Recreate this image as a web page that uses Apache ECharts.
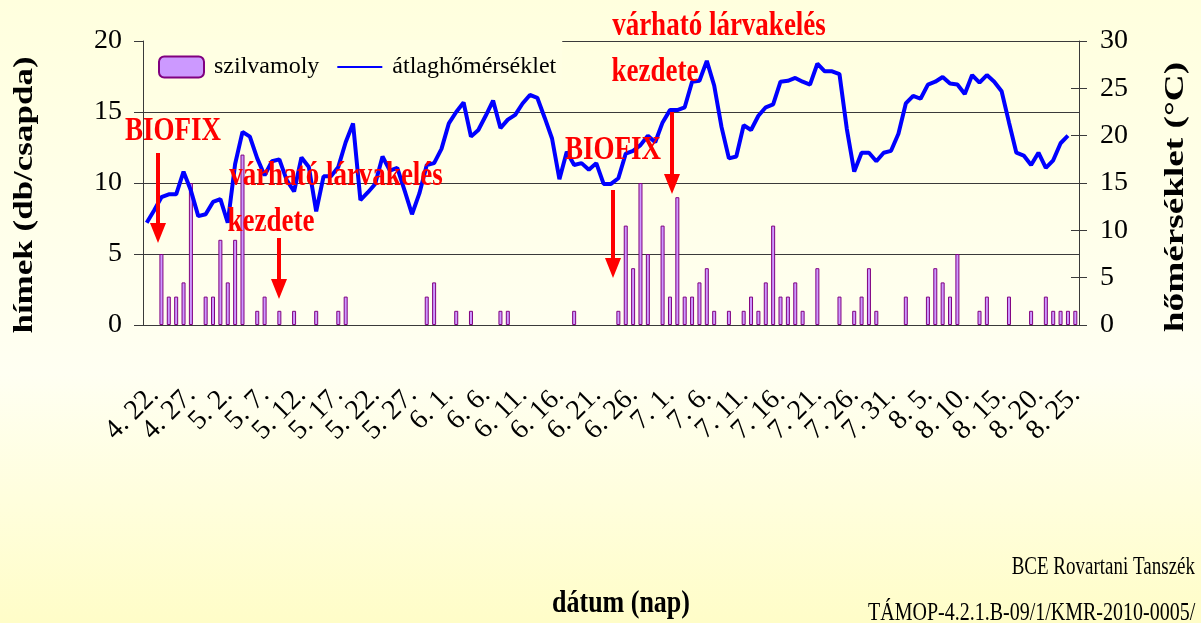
<!DOCTYPE html>
<html>
<head>
<meta charset="utf-8">
<script src="https://cdn.jsdelivr.net/npm/echarts@6.0.0/dist/echarts.min.js"></script>
<style>
  html, body { margin: 0; padding: 0; }
  #chart { width: 1201px; height: 623px; }
</style>
</head>
<body>
<div id="chart"></div>
<script>
  // napok: 4.22 - 8.26
  var monthDays = [[4, 22, 30], [5, 1, 31], [6, 1, 30], [7, 1, 31], [8, 1, 26]]
  var dates = []
  monthDays.forEach(function (m) {
    for (var d = m[1]; d <= m[2]; d++) dates.push(m[0] + '. ' + d + '.')
  })

  // szilvamoly hímek (db/csapda)
  var moths = [
    0, 0, 5, 2, 2, 3, 10, 0, 2, 2,
    6, 3, 6, 12, 0, 1, 2, 0, 1, 0,
    1, 0, 0, 1, 0, 0, 1, 2, 0, 0,
    0, 0, 0, 0, 0, 0, 0, 0, 2, 3,
    0, 0, 1, 0, 1, 0, 0, 0, 1, 1,
    0, 0, 0, 0, 0, 0, 0, 0, 1, 0,
    0, 0, 0, 0, 1, 7, 4, 10, 5, 0,
    7, 2, 9, 2, 2, 3, 4, 1, 0, 1,
    0, 1, 2, 1, 3, 7, 2, 2, 3, 1,
    0, 4, 0, 0, 2, 0, 1, 2, 4, 1,
    0, 0, 0, 2, 0, 0, 2, 4, 3, 2,
    5, 0, 0, 1, 2, 0, 0, 2, 0, 0,
    1, 0, 2, 1, 1, 1, 1
  ]

  // átlaghőmérséklet (°C)
  var temps = [
    10.8, 12.1, 13.5, 13.8, 13.8, 16.2, 14.2, 11.5, 11.7, 13.0,
    13.3, 10.8, 17.0, 20.4, 19.9, 17.6, 15.8, 17.3, 17.5, 15.3,
    14.1, 17.7, 16.7, 12.0, 15.7, 15.7, 16.7, 19.3, 21.3, 13.2,
    14.0, 14.9, 17.8, 16.3, 16.6, 14.2, 11.7, 13.9, 16.9, 17.1,
    18.6, 21.3, 22.5, 23.5, 19.9, 20.6, 22.1, 23.7, 20.8, 21.7,
    22.2, 23.4, 24.3, 24.0, 21.9, 19.7, 15.4, 18.3, 16.9, 17.1,
    16.4, 17.1, 14.9, 14.9, 15.5, 18.1, 18.4, 19.0, 20.0, 19.3,
    21.4, 22.7, 22.7, 23.0, 25.7, 25.8, 27.9, 25.3, 20.9, 17.6,
    17.8, 21.1, 20.6, 22.1, 23.0, 23.3, 25.7, 25.8, 26.1, 25.7,
    25.4, 27.6, 26.8, 26.8, 26.5, 20.7, 16.2, 18.2, 18.2, 17.3,
    18.2, 18.4, 20.2, 23.4, 24.2, 23.9, 25.4, 25.7, 26.2, 25.5,
    25.4, 24.4, 26.4, 25.6, 26.4, 25.7, 24.7, 21.4, 18.2, 17.9,
    16.9, 18.2, 16.6, 17.4, 19.2, 20.0, null
  ]

  var serif = '"Liberation Serif", "Times New Roman", serif'
  var axisColor = '#3a3a3a'

  function label (text, x, y, opts) {
    opts = opts || {}
    return {
      type: 'text', x: x, y: y, z: 100,
      rotation: opts.rotation || 0,
      scaleX: opts.scaleX || 1,
      scaleY: opts.scaleY || 1,
      style: {
        text: text,
        font: (opts.bold === false ? '' : 'bold ') + (opts.size || 27) + 'px ' + serif,
        fill: opts.color || '#ff0000',
        align: opts.align || 'center', textAlign: opts.align || 'center',
        verticalAlign: 'middle', textVerticalAlign: 'middle'
      }
    }
  }

  function arrow (x, y1, y2) {
    return [
      { type: 'line', z: 100, shape: { x1: x, y1: y1, x2: x, y2: y2 - 18 },
        style: { stroke: '#ff0000', lineWidth: 4 } },
      { type: 'polygon', z: 100, shape: { points: [[x - 8, y2 - 20], [x + 8, y2 - 20], [x, y2]] },
        style: { fill: '#ff0000' } }
    ]
  }

  // dátum címkék: két tengelyre elosztva, hogy ne takarják egymást
  function dateLabels (offset) {
    return {
      interval: function (i) { return i % 10 === offset },
      rotate: 45, margin: 58,
      align: 'right', verticalAlign: 'top', lineHeight: 22,
      fontFamily: serif, fontSize: 28, color: '#000'
    }
  }

  var chart = echarts.init(document.getElementById('chart'))
  var option = {
    backgroundColor: {
      type: 'linear', x: 0, y: 0, x2: 0, y2: 1,
      colorStops: [
        { offset: 0, color: '#FFFFDE' },
        { offset: 0.6, color: '#FFFFF2' },
        { offset: 1, color: '#FFFDC8' }
      ]
    },
    animation: false,
    grid: { left: 143, right: 122, top: 41, bottom: 298 },
    legend: {
      left: 144, top: 40,
      padding: [15, 6, 14, 14],
      itemWidth: 45, itemHeight: 21, itemGap: 17,
      backgroundColor: '#FFFFE3',
      textStyle: { fontFamily: serif, fontSize: 24, color: '#000', padding: [0, 0, 0, 5] },
      data: [
        { name: 'szilvamoly' },
        { name: 'átlaghőmérséklet', itemStyle: { opacity: 0 } }
      ]
    },
    xAxis: [{
      type: 'category', data: dates, position: 'bottom',
      axisLine: { lineStyle: { color: axisColor, width: 1 } },
      axisTick: { interval: 4, length: 12, lineStyle: { color: axisColor } },
      axisLabel: dateLabels(0),
      splitLine: { show: false }
    }, {
      type: 'category', data: dates, position: 'bottom',
      axisLine: { show: false },
      axisTick: { interval: 4, inside: true, length: 10, lineStyle: { color: axisColor } },
      axisLabel: dateLabels(5),
      splitLine: { show: false }
    }],
    yAxis: [{
      type: 'value', min: 0, max: 20, interval: 5, position: 'left',
      axisLine: { show: true, lineStyle: { color: axisColor } },
      axisTick: { show: true, length: 9, lineStyle: { color: axisColor } },
      axisLabel: { margin: 21, fontFamily: serif, fontSize: 28, color: '#000' },
      splitLine: { show: true, lineStyle: { color: axisColor, width: 1 } }
    }, {
      type: 'value', min: 0, max: 30, interval: 5, position: 'right',
      axisLine: { show: true, lineStyle: { color: axisColor } },
      axisTick: { show: true, length: 8, lineStyle: { color: axisColor } },
      axisLabel: { margin: 21, fontFamily: serif, fontSize: 28, color: '#000' },
      splitLine: { show: false }
    }, {
      type: 'value', min: 0, max: 30, interval: 5, position: 'right',
      axisLine: { show: false },
      axisTick: { show: true, inside: true, length: 8, lineStyle: { color: axisColor } },
      axisLabel: { show: false },
      splitLine: { show: false }
    }],
    series: [{
      name: 'szilvamoly', type: 'bar',
      data: moths.map(function (v) { return v === 0 ? '-' : v }),
      xAxisIndex: 0, yAxisIndex: 0,
      barWidth: 4,
      itemStyle: { color: '#CC99FF', borderColor: '#800080', borderWidth: 1 },
      z: 2
    }, {
      name: 'átlaghőmérséklet', type: 'line', data: temps,
      xAxisIndex: 0, yAxisIndex: 1,
      symbol: 'none',
      lineStyle: { color: '#0000FF', width: 4 },
      itemStyle: { color: '#0000FF' },
      z: 5
    }],
    graphic: [
      label('BIOFIX', 173, 131, { scaleY: 1.25 }),
      label('várható lárvakelés', 336, 176, { scaleY: 1.25 }),
      label('kezdete', 271, 222, { scaleY: 1.25 }),
      label('BIOFIX', 613, 150, { scaleY: 1.25 }),
      label('várható lárvakelés', 719, 26, { scaleY: 1.25 }),
      label('kezdete', 655, 72, { scaleY: 1.25 }),
      label('hímek (db/csapda)', 25, 195, { rotation: Math.PI / 2, scaleX: 1.25, size: 28, color: '#000' }),
      label('hőmérséklet (°C)', 1176, 197, { rotation: Math.PI / 2, scaleX: 1.33, size: 28, color: '#000' }),
      label('dátum (nap)', 621, 604, { scaleY: 1.25, size: 26, color: '#000' }),
      label('BCE Rovartani Tanszék', 1195, 568, { align: 'right', bold: false, size: 19, scaleY: 1.3, color: '#000' }),
      label('TÁMOP-4.2.1.B-09/1/KMR-2010-0005/', 868, 613, { align: 'left', bold: false, size: 20, scaleY: 1.3, color: '#000' })
    ].concat(arrow(158, 153, 243), arrow(279, 238, 299), arrow(613, 190, 278), arrow(672, 112, 194))
  }
  chart.setOption(option)
</script>
</body>
</html>
